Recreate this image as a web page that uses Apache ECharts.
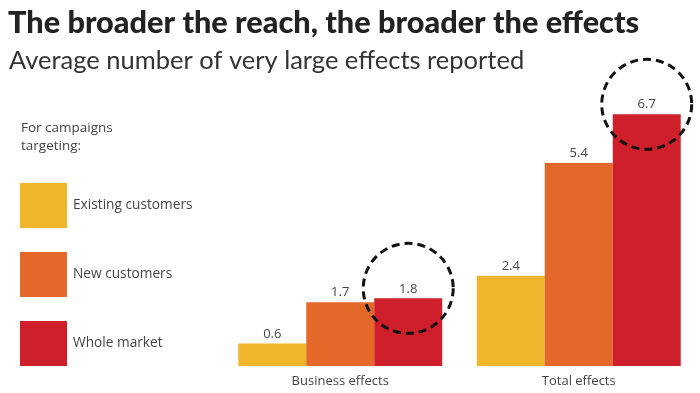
<!DOCTYPE html>
<html><head><meta charset="utf-8">
<script src="https://cdn.jsdelivr.net/npm/echarts@6/dist/echarts.min.js"></script>
<style>html,body{margin:0;padding:0;background:#fff}#c{width:700px;height:393px}</style>
</head><body><div id="c"></div>
<script>
const categories = ['Business effects', 'Total effects'];
const seriesNames = ['Existing customers', 'New customers', 'Whole market'];
const existingCustomers = [0.6, 2.4];
const newCustomers = [1.7, 5.4];
const wholeMarket = [1.8, 6.7];
const colors = ['#EFB52B', '#E3682A', '#CE1F2A'];

const chart = echarts.init(document.getElementById('c'));
const labelStyle = {show: true, position: 'top', distance: 3, color: '#444', fontSize: 13, fontFamily: 'Open Sans'};
const dataSets = [existingCustomers, newCustomers, wholeMarket];
const series = dataSets.map((d, i) => ({
  name: seriesNames[i], type: 'bar', data: d,
  itemStyle: {color: colors[i]},
  label: labelStyle,
  barGap: '0%', barCategoryGap: '14.5%'
}));
series[2].markPoint = {
  symbol: 'circle', symbolSize: 90, symbolOffset: [0, -10], silent: true,
  label: {show: false},
  itemStyle: {color: 'rgba(0,0,0,0)', borderColor: '#111', borderWidth: 3, borderType: [8, 5]},
  data: categories.map((c, i) => ({coord: [c, wholeMarket[i]]}))
};
chart.setOption({
  animation: false,
  title: [
    {text: 'The broader the reach, the broader the effects', left: 3, top: 3,
     textStyle: {fontFamily: 'Lato', fontWeight: 900, fontSize: 30.7, color: '#222'}},
    {text: 'Average number of very large effects reported', left: 4, top: 43,
     textStyle: {fontFamily: 'Lato', fontWeight: 'normal', fontSize: 25.5, color: '#333'}},
    {text: 'For campaigns\ntargeting:', left: 16, top: 114,
     textStyle: {fontFamily: 'Open Sans', fontWeight: 'normal', fontSize: 13.5, lineHeight: 18, color: '#444'}}
  ],
  legend: {
    orient: 'vertical', left: 15, top: 178, itemWidth: 47, itemHeight: 45, itemGap: 24,
    icon: 'rect', data: seriesNames,
    textStyle: {fontFamily: 'Open Sans', fontSize: 13.7, color: '#444', padding: [0, 0, 0, 1]}
  },
  grid: {left: 221, right: 2, top: 103, bottom: 27},
  xAxis: {type: 'category', data: categories,
    axisLine: {show: false}, axisTick: {show: false},
    axisLabel: {color: '#444', fontSize: 13, fontFamily: 'Open Sans', margin: 9}},
  yAxis: {type: 'value', min: 0, max: 7, show: false, splitLine: {show: false}},
  series: series
});
</script></body></html>
